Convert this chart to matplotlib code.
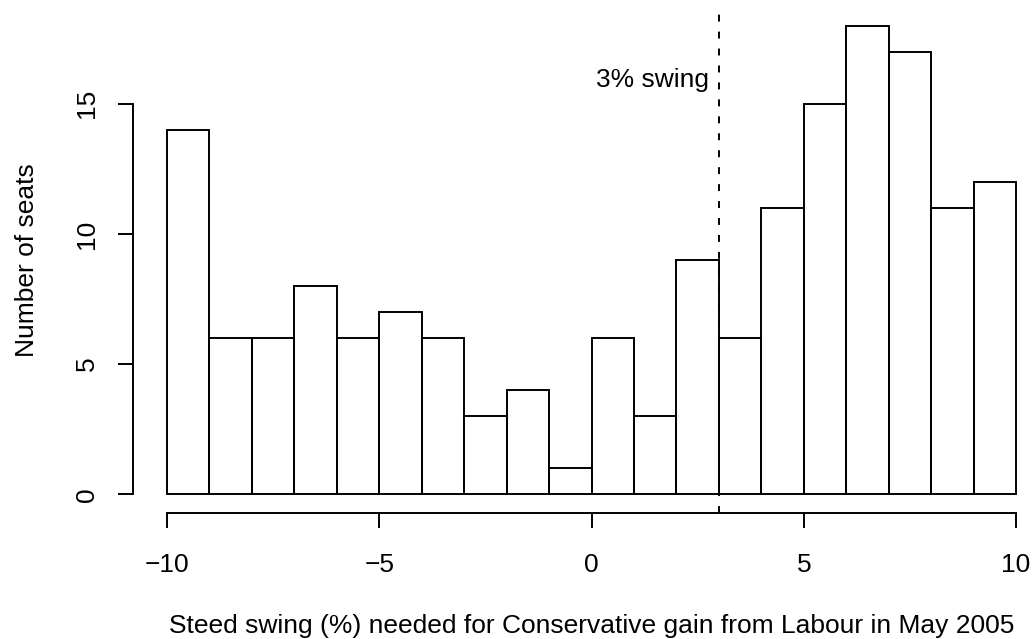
import matplotlib
matplotlib.use("Agg")
import matplotlib.pyplot as plt

# Histogram of swing needed (1-point bins from -10 to 10)
bin_left = [-10, -9, -8, -7, -6, -5, -4, -3, -2, -1, 0, 1, 2, 3, 4, 5, 6, 7, 8, 9]
seat_counts = [14, 6, 6, 8, 6, 7, 6, 3, 4, 1, 6, 3, 9, 6, 11, 15, 18, 17, 11, 12]
x_ticks = [-10, -5, 0, 5, 10]
y_ticks = [0, 5, 10, 15]
swing_line = 3
swing_label = "3% swing"
swing_label_y = 16
x_title = "Steed swing (%) needed for Conservative gain from Labour in May 2005"
y_title = "Number of seats"

plt.rcParams["font.family"] = ["Liberation Sans", "DejaVu Sans"]
plt.rcParams["lines.scale_dashes"] = False

FS = 19
W, H = 1032, 639
fig = plt.figure(figsize=(W / 100, H / 100), dpi=100)
left, right, top, bottom = 133, 1050, 7, 513
ax = fig.add_axes([left / W, (H - bottom) / H, (right - left) / W, (bottom - top) / H])

lw = 1.4
ax.bar(bin_left, seat_counts, width=1, align="edge", fill=False,
       edgecolor="black", linewidth=lw)

ax.set_xlim(-10.8, 10.8)
ax.set_ylim(-0.72, 18.72)

for s in ("top", "right"):
    ax.spines[s].set_visible(False)
ax.spines["left"].set_bounds(y_ticks[0], y_ticks[-1])
ax.spines["bottom"].set_bounds(x_ticks[0], x_ticks[-1])
for s in ("left", "bottom"):
    ax.spines[s].set_linewidth(lw)

ax.set_xticks(x_ticks)
ax.set_yticks(y_ticks)
ax.tick_params(direction="out", length=10.8, width=lw, labelsize=FS)
ax.tick_params(axis="x", pad=18)
ax.tick_params(axis="y", pad=13.5)
for lab in ax.get_yticklabels():
    lab.set_rotation(90)
    lab.set_va("center")

ax.axvline(swing_line, color="black", linewidth=lw, linestyle=(0, (5.0, 7.2)))
ax.annotate(swing_label, xy=(swing_line, swing_label_y), xytext=(-10, -9),
            textcoords="offset pixels", ha="right", va="baseline", fontsize=FS)

ax.set_xlabel(x_title, fontsize=FS)
ax.set_ylabel(y_title, fontsize=FS)
ax.xaxis.set_label_coords(0.5, -0.1996)
ax.yaxis.set_label_coords(-0.1028, 0.5)

fig.savefig("out.png", dpi=100)
